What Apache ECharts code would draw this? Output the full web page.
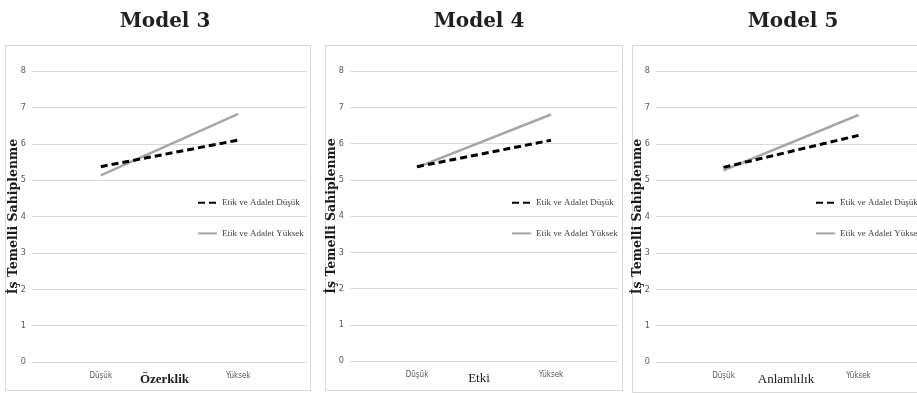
<!DOCTYPE html>
<html>
<head>
<meta charset="utf-8">
<script src="https://cdn.jsdelivr.net/npm/echarts@6/dist/echarts.min.js"></script>
<style>html,body{margin:0;padding:0;background:#fff}#c{width:917px;height:393px}</style>
</head>
<body>
<div id="c"></div>
<script>
const categories = ['Düşük', 'Yüksek'];
const seriesNames = ['Etik ve Adalet Düşük', 'Etik ve Adalet Yüksek'];
const panelTitles = ['Model 3', 'Model 4', 'Model 5'];
const xAxisNames = ['Özerklik', 'Etki', 'Anlamlılık'];
const yAxisName = 'İş Temelli Sahiplenme';
const yTicks = [0, 1, 2, 3, 4, 5, 6, 7, 8];
const model3Low = [5.37, 6.10];
const model3High = [5.13, 6.82];
const model4Low = [5.36, 6.09];
const model4High = [5.34, 6.80];
const model5Low = [5.35, 6.23];
const model5High = [5.27, 6.79];

const lowData = [model3Low, model4Low, model5Low];
const highData = [model3High, model4High, model5High];

const grids = [
  {left: 32, top: 71, width: 275, height: 291},
  {left: 350, top: 71, width: 268, height: 290},
  {left: 656, top: 71, width: 270, height: 291}
];
const titleX = [160, 474, 788];
const legendX = [197, 511, 815];
const boxes = [
  {x: 5, y: 45, w: 305, h: 345},
  {x: 325, y: 45, w: 297, h: 345},
  {x: 632, y: 45, w: 300, h: 347}
];
const narrow = '"Liberation Sans Narrow", "DejaVu Sans Condensed", "Liberation Sans", sans-serif';
const serif = '"Liberation Serif", serif';

const option = {
  animation: false,
  backgroundColor: '#fff',
  title: panelTitles.map((t, i) => ({
    text: t, left: titleX[i], top: 7, textAlign: 'center',
    textStyle: {fontFamily: '"DejaVu Serif", serif', fontWeight: 'bold', fontSize: 20, color: '#231f20'}
  })),
  graphic: boxes.map(b => ({
    type: 'rect', shape: {x: b.x + 0.5, y: b.y + 0.5, width: b.w, height: b.h},
    style: {fill: 'none', stroke: '#d9d9d9', lineWidth: 1}, silent: true, z: -1
  })),
  legend: legendX.map(x => ({
    data: seriesNames, orient: 'vertical', left: x, top: 198, padding: 0,
    itemWidth: 19, itemHeight: 12, itemGap: 21,
    itemStyle: {opacity: 0},
    textStyle: {fontFamily: serif, fontSize: 9, color: '#404040'}
  })),
  grid: grids.map(g => Object.assign({outerBoundsMode: 'none', containLabel: false}, g)),
  xAxis: grids.map((g, i) => ({
    type: 'category', gridIndex: i, data: categories, boundaryGap: true,
    axisLine: {show: false}, axisTick: {show: false},
    axisLabel: {fontFamily: narrow, fontSize: 8, color: '#595959', margin: 10},
    name: xAxisNames[i], nameLocation: 'middle', nameGap: 11, nameMoveOverlap: false,
    nameTextStyle: {fontFamily: serif, fontSize: 13, fontWeight: i === 0 ? 'bold' : 'normal', color: '#1a1a1a', padding: [0, 10, 0, 0]}
  })),
  yAxis: grids.map((g, i) => ({
    type: 'value', gridIndex: i, min: yTicks[0], max: yTicks[yTicks.length - 1], interval: 1,
    axisLine: {show: false}, axisTick: {show: false},
    axisLabel: {fontFamily: narrow, fontSize: 9, color: '#595959', margin: 6},
    splitLine: {lineStyle: {color: '#d9d9d9', width: 1}},
    name: yAxisName, nameLocation: 'middle', nameRotate: 90, nameGap: 12, nameMoveOverlap: false,
    nameTextStyle: {fontFamily: '"DejaVu Serif", serif', fontWeight: 'bold', fontSize: 12.5, color: '#1a1a1a'}
  })),
  series: []
};
for (let i = 0; i < 3; i++) {
  option.series.push({
    name: seriesNames[0], type: 'line', xAxisIndex: i, yAxisIndex: i,
    data: lowData[i], symbol: 'none', z: 3,
    lineStyle: {color: '#000', width: 3, type: [7, 4]},
    itemStyle: {color: '#000'}
  });
  option.series.push({
    name: seriesNames[1], type: 'line', xAxisIndex: i, yAxisIndex: i,
    data: highData[i], symbol: 'none', z: 2,
    lineStyle: {color: '#a6a6a6', width: 2.5, type: 'solid'},
    itemStyle: {color: '#a6a6a6'}
  });
}
const chart = echarts.init(document.getElementById('c'), null, {renderer: 'canvas'});
chart.setOption(option);
</script>
</body>
</html>
